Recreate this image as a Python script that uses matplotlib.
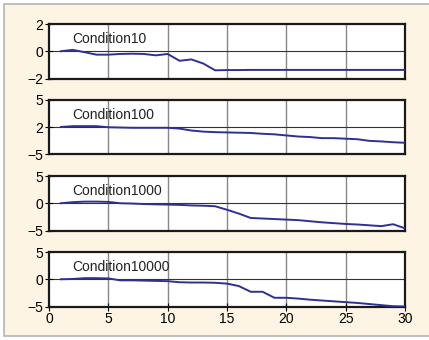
import matplotlib
matplotlib.use("Agg")
import matplotlib.pyplot as plt
from matplotlib.patches import Rectangle

x = list(range(1, 31))

cond10 = [0, 0.1, -0.07, -0.25, -0.25, -0.2, -0.18, -0.2, -0.3, -0.2,
          -0.7, -0.6, -0.9, -1.4, -1.38, -1.38, -1.37, -1.37, -1.37, -1.37,
          -1.37, -1.37, -1.37, -1.37, -1.37, -1.37, -1.37, -1.37, -1.37, -1.37]
cond100 = [0.05, 0.2, 0.2, 0.2, 0.0, -0.05, -0.1, -0.1, -0.1, -0.1,
           -0.25, -0.6, -0.8, -0.9, -0.95, -1.0, -1.05, -1.2, -1.3, -1.5,
           -1.7, -1.8, -2.0, -2.0, -2.1, -2.2, -2.5, -2.6, -2.75, -2.85]
cond1000 = [0, 0.2, 0.3, 0.3, 0.25, 0, -0.05, -0.15, -0.2, -0.25,
            -0.3, -0.4, -0.45, -0.55, -1.2, -1.9, -2.7, -2.8, -2.9, -3.0,
            -3.1, -3.3, -3.5, -3.65, -3.8, -3.9, -4.05, -4.2, -3.85, -4.6]
cond10000 = [0, 0.05, 0.2, 0.2, 0.15, -0.2, -0.2, -0.25, -0.3, -0.35,
             -0.55, -0.6, -0.6, -0.65, -0.8, -1.25, -2.3, -2.3, -3.4, -3.4,
             -3.55, -3.75, -3.9, -4.05, -4.2, -4.35, -4.55, -4.75, -4.95, -5.0]

names = ["Condition10", "Condition100", "Condition1000", "Condition10000"]
series = [cond10, cond100, cond1000, cond10000]
ylims = [(-2, 2), (-5, 5), (-5, 5), (-5, 5)]
yticks = [[-2, 0, 2], [-5, 0, 5], [-5, 0, 5], [-5, 0, 5]]
ylabels = [["\u22122", "0", "2"], ["\u22125", "2", "5"],
           ["\u22125", "0", "5"], ["\u22125", "0", "5"]]
xticks = [0, 5, 10, 15, 20, 25, 30]

plt.rcParams['font.family'] = ['Liberation Sans Narrow', 'Liberation Sans', 'DejaVu Sans']
plt.rcParams['font.size'] = 10

W, H = 429, 340
fig = plt.figure(figsize=(W / 100, H / 100), dpi=100)
fig.patch.set_facecolor("white")
cream = "#fdf4e3"
fig.patches.append(Rectangle((3.5 / W, 4 / H), 1.0, 332 / H, transform=fig.transFigure,
                             facecolor=cream, edgecolor="#b4b4b4", linewidth=1.2, zorder=-1))

left, width = 49 / W, 356 / W
tops = [24, 100, 176, 252]
h = 54.5

for i, (name, ys) in enumerate(zip(names, series)):
    ax = fig.add_axes([left, 1 - (tops[i] + h) / H, width, h / H])
    ax.set_facecolor("white")
    for xv in xticks[1:-1]:
        ax.axvline(xv, color="#888888", lw=1.0, zorder=1)
    ax.axhline(0, color="#333333", lw=0.8, zorder=1)
    ax.plot(x, ys, color="#2e3192", lw=1.4, zorder=3)
    ax.set_xlim(0, 30)
    ax.set_ylim(*ylims[i])
    ax.set_yticks(yticks[i])
    ax.set_yticklabels(ylabels[i])
    ax.set_xticks(xticks)
    for s in ax.spines.values():
        s.set_linewidth(1.6)
        s.set_color("#1a1a1a")
    ax.tick_params(axis="y", direction="inout", length=6, width=0.8, pad=1, labelsize=10)
    if i == 3:
        ax.tick_params(axis="x", direction="inout", length=6, width=0.8, pad=1, labelsize=10)
    else:
        ax.tick_params(axis="x", length=0, labelbottom=False)
    ax.text(0.065, 0.655, name, transform=ax.transAxes, fontsize=10,
            va="baseline", ha="left", color="#222222", zorder=4)

fig.savefig("out.png", dpi=100, facecolor=fig.get_facecolor())
